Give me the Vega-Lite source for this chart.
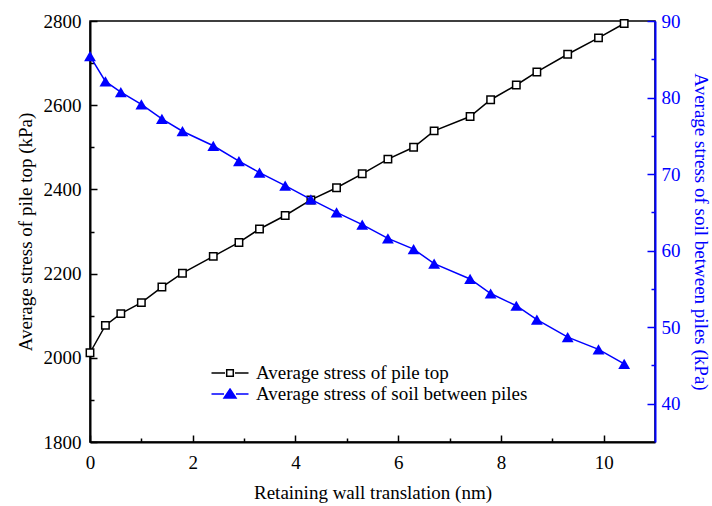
{
  "$schema": "https://vega.github.io/schema/vega-lite/v6.json",
  "width": 565,
  "height": 421,
  "autosize": {"type": "none"},
  "padding": {"left": 90, "top": 21, "right": 57, "bottom": 64},
  "background": "white",
  "config": {
    "font": "Liberation Serif",
    "view": {"stroke": "black", "strokeWidth": 1.5},
    "axis": {
      "labelFont": "Liberation Serif",
      "titleFont": "Liberation Serif",
      "labelFontSize": 19,
      "titleFontSize": 19,
      "titleFontWeight": "normal",
      "grid": false,
      "domainWidth": 2,
      "tickWidth": 1.5,
      "labelFlush": false,
      "labelOverlap": false
    }
  },
  "data": {
    "values": [
      {"x": 0, "pile": 2012, "soil": 85.4},
      {"x": 0.3, "pile": 2077, "soil": 82.1},
      {"x": 0.6, "pile": 2105, "soil": 80.7},
      {"x": 1.0, "pile": 2131, "soil": 79.1},
      {"x": 1.4, "pile": 2168, "soil": 77.2},
      {"x": 1.8, "pile": 2201, "soil": 75.6},
      {"x": 2.4, "pile": 2241, "soil": 73.7},
      {"x": 2.9, "pile": 2274, "soil": 71.7},
      {"x": 3.3, "pile": 2306, "soil": 70.2},
      {"x": 3.8, "pile": 2338, "soil": 68.5},
      {"x": 4.3, "pile": 2375, "soil": 66.7},
      {"x": 4.8, "pile": 2404, "soil": 65.0},
      {"x": 5.3, "pile": 2437, "soil": 63.4},
      {"x": 5.8, "pile": 2472, "soil": 61.6},
      {"x": 6.3, "pile": 2500, "soil": 60.2},
      {"x": 6.7, "pile": 2539, "soil": 58.3},
      {"x": 7.4, "pile": 2573, "soil": 56.3},
      {"x": 7.8, "pile": 2613, "soil": 54.4},
      {"x": 8.3, "pile": 2648, "soil": 52.8},
      {"x": 8.7, "pile": 2679, "soil": 51.0},
      {"x": 9.3, "pile": 2721, "soil": 48.7},
      {"x": 9.9, "pile": 2760, "soil": 47.1},
      {"x": 10.4, "pile": 2794, "soil": 45.2}
    ]
  },
  "encoding": {
    "x": {
      "field": "x",
      "type": "quantitative",
      "scale": {"domain": [0, 11], "nice": false, "zero": false},
      "axis": {
        "title": "Retaining wall translation (nm)",
        "values": [0, 1, 2, 3, 4, 5, 6, 7, 8, 9, 10],
        "labelExpr": "datum.value % 2 === 0 ? datum.label : ''",
        "tickSize": {"condition": {"test": "datum.value % 2 === 0", "value": -7}, "value": -4},
        "labelPadding": 18,
        "titlePadding": 8,
        "domainColor": "black",
        "tickColor": "black",
        "labelColor": "black",
        "titleColor": "black"
      }
    }
  },
  "layer": [
    {
      "encoding": {
        "y": {
          "field": "pile",
          "type": "quantitative",
          "scale": {"domain": [1800, 2800], "nice": false, "zero": false},
          "axis": {
            "orient": "left",
            "title": "Average stress of pile top (kPa)",
            "values": [1800, 1900, 2000, 2100, 2200, 2300, 2400, 2500, 2600, 2700, 2800],
            "format": "d",
            "labelExpr": "datum.value % 200 === 0 ? datum.label : ''",
            "tickSize": {"condition": {"test": "datum.value % 200 === 0", "value": -7}, "value": -4},
            "labelPadding": 16,
            "titlePadding": 8,
            "domainColor": "black",
            "tickColor": "black",
            "labelColor": "black",
            "titleColor": "black"
          }
        }
      },
      "layer": [
        {
          "mark": {"type": "line", "strokeWidth": 1.5},
          "encoding": {
            "color": {
              "datum": "Average stress of pile top",
              "scale": {
                "domain": ["Average stress of pile top", "Average stress of soil between piles"],
                "range": ["black", "#0000ff"]
              },
              "legend": {
                "title": null,
                "orient": "none",
                "legendX": 129,
                "legendY": 341,
                "padding": 0,
                "labelFont": "Liberation Serif",
                "labelFontSize": 19,
                "labelColor": "black",
                "labelLimit": 400,
                "symbolSize": 400,
                "symbolStrokeWidth": 1.5,
                "labelOffset": 15,
                "rowPadding": 0,
                "encode": {
                  "symbols": {
                    "update": {
                      "shape": {"signal": "datum.value === 'Average stress of pile top' ? 'M-1.85,0H-0.5M0.5,0H1.85M-0.33,-0.33H0.33V0.33H-0.33Z' : 'M-1.85,0H-0.6M0.6,0H1.85M0,-0.5L0.6,0.4H-0.6Z'"},
                      "fill": {"signal": "datum.value === 'Average stress of pile top' ? 'white' : '#0000ff'"},
                      "stroke": {"signal": "datum.value === 'Average stress of pile top' ? 'black' : '#0000ff'"},
                      "opacity": {"value": 1}
                    }
                  }
                }
              }
            }
          }
        },
        {
          "mark": {"type": "point", "shape": "square", "size": 55, "filled": true, "fill": "white", "stroke": "black", "strokeWidth": 1.5, "opacity": 1}
        }
      ]
    },
    {
      "encoding": {
        "y": {
          "field": "soil",
          "type": "quantitative",
          "scale": {"domain": [35, 90], "nice": false, "zero": false},
          "axis": {
            "orient": "right",
            "title": "Average stress of soil between piles (kPa)",
            "values": [40, 45, 50, 55, 60, 65, 70, 75, 80, 85, 90],
            "labelExpr": "datum.value % 10 === 0 ? datum.label : ''",
            "tickSize": {"condition": {"test": "datum.value % 10 === 0", "value": -8}, "value": -4},
            "labelPadding": 14,
            "titlePadding": 10,
            "domainColor": "#0000ff",
            "tickColor": "#0000ff",
            "labelColor": "#0000ff",
            "titleColor": "#0000ff"
          }
        }
      },
      "layer": [
        {
          "mark": {"type": "line", "strokeWidth": 1.5},
          "encoding": {
            "color": {"datum": "Average stress of soil between piles"}
          }
        },
        {
          "mark": {"type": "point", "shape": "triangle-up", "size": 140, "filled": true, "color": "#0000ff", "opacity": 1}
        }
      ]
    }
  ],
  "resolve": {"scale": {"y": "independent"}}
}
